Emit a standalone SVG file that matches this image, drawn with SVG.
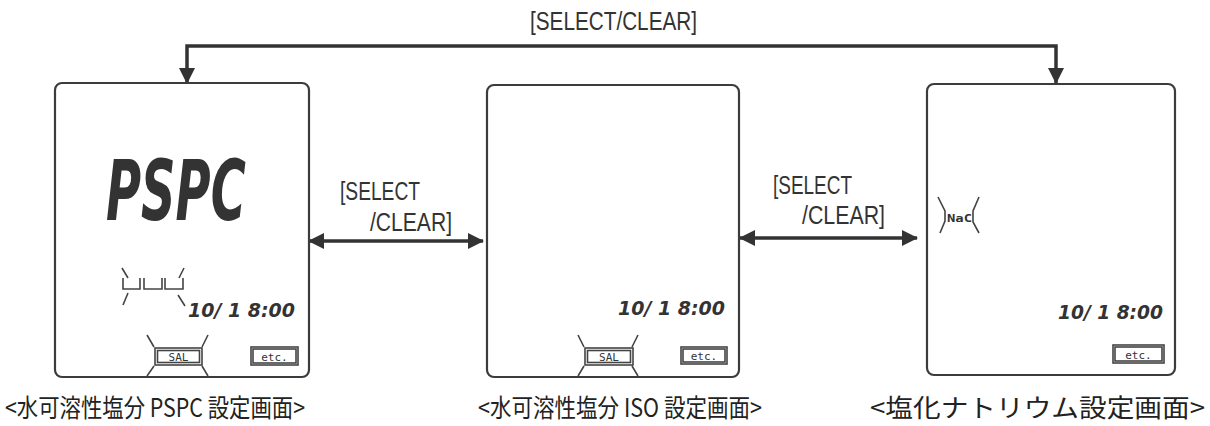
<svg xmlns="http://www.w3.org/2000/svg" width="1210" height="426" viewBox="0 0 1210 426">
<style>
.screen{fill:#fff;stroke:#3c3c3c;stroke-width:2.2}
.lbl{font-family:"Liberation Sans","DejaVu Sans",sans-serif;font-size:25px;fill:#333}
.cap{font-family:"Noto Sans CJK JP","Noto Sans",sans-serif;font-size:25px;fill:#222}
.seg{font-family:"DejaVu Sans",sans-serif;font-weight:bold;font-style:italic;fill:#333}
.small{font-family:"DejaVu Sans Mono","Liberation Mono",monospace;font-size:11px;fill:#333}
.conn{fill:none;stroke:#333;stroke-width:3.5}
.thin{fill:none;stroke:#444;stroke-width:1.6}
.tag{fill:#fff;stroke:#444;stroke-width:1.6}
</style>
<defs>
<marker id="ah" viewBox="0 0 16 16" refX="15" refY="8" markerWidth="16" markerHeight="16" markerUnits="userSpaceOnUse" orient="auto-start-reverse">
<path d="M0,0 L16,8 L0,16 Z" fill="#333"/>
</marker>
</defs>
<rect width="1210" height="426" fill="#fff"/>

<g id="connectors">
<path class="conn" d="M187,83 L187,46 L1056,46 L1056,83" marker-start="url(#ah)" marker-end="url(#ah)"/>
<text class="lbl" x="530" y="30" textLength="167" lengthAdjust="spacingAndGlyphs">[SELECT/CLEAR]</text>
<line class="conn" x1="309" y1="241" x2="483" y2="241" marker-start="url(#ah)" marker-end="url(#ah)"/>
<text class="lbl" x="340" y="200" textLength="80" lengthAdjust="spacingAndGlyphs">[SELECT</text>
<text class="lbl" x="370" y="231" textLength="82" lengthAdjust="spacingAndGlyphs">/CLEAR]</text>
<line class="conn" x1="740" y1="238" x2="917" y2="238" marker-start="url(#ah)" marker-end="url(#ah)"/>
<text class="lbl" x="773" y="194" textLength="79" lengthAdjust="spacingAndGlyphs">[SELECT</text>
<text class="lbl" x="802" y="224" textLength="83" lengthAdjust="spacingAndGlyphs">/CLEAR]</text>
</g>

<g id="screen-pspc">
<rect class="screen" x="55" y="83" width="254" height="294" rx="7"/>
<text class="seg" transform="translate(106,220) scale(0.57,1)" x="0" y="0" font-size="84">PSPC</text>
<path class="thin" d="M123,278 L123,289 L140,289 L140,278 M144,278 L144,289 L162,289 L162,278 M165,278 L165,289 L183,289 L183,278"/>
<path class="thin" d="M122,268 L128,278 M184,268 L179,278 M128,293 L123,305 M178,295 L185,306"/>
<text class="seg" x="188" y="317" font-size="20" textLength="107" lengthAdjust="spacingAndGlyphs">10/ 1 8:00</text>
<rect class="tag" x="155" y="348" width="47" height="17"/>
<rect class="thin" x="157.5" y="350.5" width="42" height="12" stroke-width="0.8"/>
<text class="small" x="178.5" y="361" text-anchor="middle">SAL</text>
<path class="thin" d="M147,335 L154,347 M208,335 L202,347 M154,366 L147,376 M202,366 L208,376"/>
<rect class="tag" x="251" y="347" width="47" height="18"/>
<rect class="thin" x="253" y="349" width="43" height="14" stroke-width="0.8"/>
<text class="small" x="274.5" y="361" text-anchor="middle">etc.</text>
</g>

<g id="screen-iso">
<rect class="screen" x="487" y="85" width="252" height="292" rx="7"/>
<text class="seg" x="618" y="315" font-size="20" textLength="107" lengthAdjust="spacingAndGlyphs">10/ 1 8:00</text>
<rect class="tag" x="585" y="348" width="48" height="17"/>
<rect class="thin" x="587.5" y="350.5" width="43" height="12" stroke-width="0.8"/>
<text class="small" x="609" y="361" text-anchor="middle">SAL</text>
<path class="thin" d="M578,335 L584,347 M638,335 L632,347 M584,366 L578,376 M632,366 L638,376"/>
<rect class="tag" x="681" y="347" width="46" height="17"/>
<rect class="thin" x="683" y="349" width="42" height="13" stroke-width="0.8"/>
<text class="small" x="704" y="360" text-anchor="middle">etc.</text>
</g>

<g id="screen-nacl">
<rect class="screen" x="927" y="84" width="248" height="291" rx="7"/>
<path class="thin" d="M938,197 L945,211 L945,221 L940,233 M979,197 L973,211 L973,222 L979,233" stroke-width="2"/>
<text class="small" x="947" y="222" font-size="14" font-weight="bold" textLength="25" lengthAdjust="spacingAndGlyphs">NaC</text>
<text class="seg" x="1058" y="319" font-size="20" textLength="105" lengthAdjust="spacingAndGlyphs">10/ 1 8:00</text>
<rect class="tag" x="1113" y="345" width="51" height="18"/>
<rect class="thin" x="1115" y="347" width="47" height="14" stroke-width="0.8"/>
<text class="small" x="1138.5" y="359" text-anchor="middle">etc.</text>
</g>

<g id="captions">
<text class="cap" x="5" y="417" textLength="300" lengthAdjust="spacingAndGlyphs">&lt;水可溶性塩分 PSPC 設定画面&gt;</text>
<text class="cap" x="478" y="417" textLength="284" lengthAdjust="spacingAndGlyphs">&lt;水可溶性塩分 ISO 設定画面&gt;</text>
<text class="cap" x="870" y="417" textLength="335" lengthAdjust="spacingAndGlyphs">&lt;塩化ナトリウム設定画面&gt;</text>
</g>
</svg>
